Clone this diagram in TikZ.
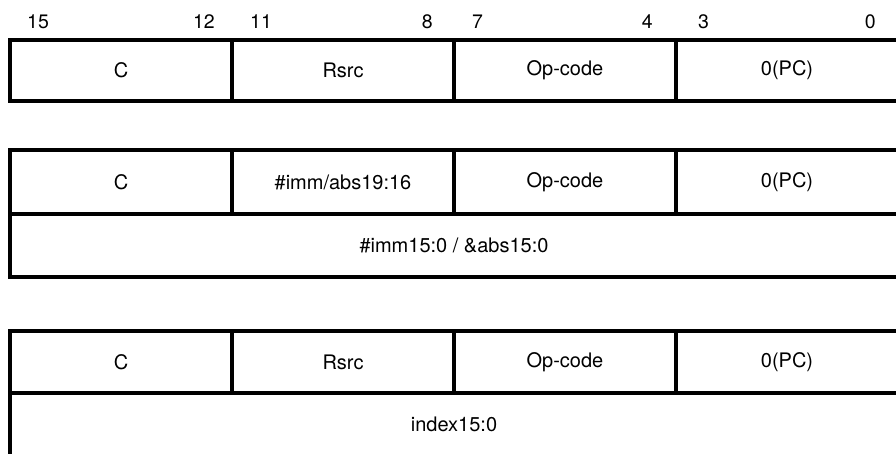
\documentclass[tikz,border=0pt]{standalone}
\usepackage{fontspec}
\setmainfont{TeX Gyre Heros}
\begin{document}
\begin{tikzpicture}[x=1pt,y=-1pt,
  field/.style={draw=black,line width=3.4pt,inner sep=0pt,minimum width=222pt,font=\fontsize{20}{24}\selectfont},
  bitlbl/.style={inner sep=0pt,font=\fontsize{19.5}{23}\selectfont}]
\useasboundingbox (0,0) rectangle (896,453);
\clip (0,0) rectangle (896,453);
% bit numbers
\node[bitlbl,anchor=base west] (b15) at (27,28) {15};
\node[bitlbl,anchor=base east] (b12) at (215,28) {12};
\node[bitlbl,anchor=base west] (b11) at (250,28) {11};
\node[bitlbl,anchor=base east] (b8) at (433,28) {8};
\node[bitlbl,anchor=base west] (b7) at (472,28) {7};
\node[bitlbl,anchor=base east] (b4) at (653,28) {4};
\node[bitlbl,anchor=base west] (b3) at (698,28) {3};
\node[bitlbl,anchor=base east] (b0) at (876,28) {0};
% block 1
\node[field,minimum height=61pt] (a1) at (121,70.5) {C};
\node[field,minimum height=61pt] (a2) at (343,70.5) {Rsrc};
\node[field,minimum height=61pt] (a3) at (565,70.5) {Op-code};
\node[field,minimum height=61pt] (a4) at (787,70.5) {0(PC)};
% block 2
\node[field,minimum height=64pt] (c1) at (121,182) {C};
\node[field,minimum height=64pt] (c2) at (343,182) {\#imm/abs19:16};
\node[field,minimum height=64pt] (c3) at (565,182) {Op-code};
\node[field,minimum height=64pt] (c4) at (787,182) {0(PC)};
\node[field,minimum width=888pt,minimum height=63pt] (c5) at (454,245.5) {\#imm15:0 / \&abs15:0};
% block 3
\node[field,minimum height=62pt] (d1) at (121,362) {C};
\node[field,minimum height=62pt] (d2) at (343,362) {Rsrc};
\node[field,minimum height=62pt] (d3) at (565,362) {Op-code};
\node[field,minimum height=62pt] (d4) at (787,362) {0(PC)};
\node[field,minimum width=888pt,minimum height=63pt] (d5) at (454,424.5) {index15:0};
\end{tikzpicture}
\end{document}
